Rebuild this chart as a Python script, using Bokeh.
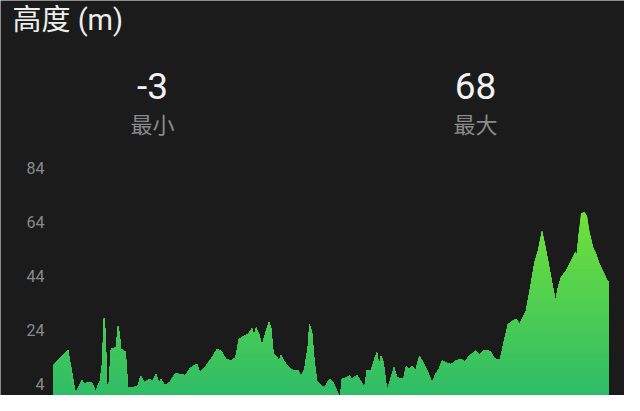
import numpy as np
from bokeh.plotting import figure
from bokeh.models import Range1d
from bokeh.core.properties import value
from bokeh.embed import file_html
from bokeh.resources import INLINE

# ---- data ----
distance_km = [0.00, 0.29, 0.44, 0.57, 0.62, 0.67, 0.77, 0.84, 0.93, 0.97, 1.01, 1.04, 1.07, 1.11,
               1.15, 1.25, 1.29, 1.32, 1.35, 1.44, 1.49, 1.59, 1.69, 1.74, 1.82, 1.92, 1.97, 2.05,
               2.11, 2.15, 2.22, 2.32, 2.44, 2.52, 2.64, 2.73, 2.81, 2.87, 2.93, 3.05, 3.15, 3.27,
               3.35, 3.45, 3.55, 3.64, 3.71, 3.82, 3.89, 3.97, 4.01, 4.05, 4.11, 4.17, 4.24, 4.31,
               4.35, 4.40, 4.45, 4.51, 4.55, 4.65, 4.75, 4.82, 4.89, 4.95, 5.02, 5.09, 5.12, 5.17,
               5.22, 5.27, 5.35, 5.42, 5.52, 5.59, 5.67, 5.73, 5.77, 5.85, 5.92, 5.97, 6.07, 6.14,
               6.22, 6.27, 6.35, 6.44, 6.47, 6.51, 6.55, 6.60, 6.67, 6.73, 6.81, 6.87, 6.95, 7.00,
               7.05, 7.12, 7.17, 7.24, 7.32, 7.39, 7.49, 7.57, 7.64, 7.71, 7.77, 7.85, 7.95, 8.05,
               8.15, 8.22, 8.32, 8.45, 8.52, 8.59, 8.69, 8.75, 8.82, 8.93, 8.99, 9.09, 9.19, 9.25,
               9.32, 9.39, 9.45, 9.53, 9.62, 9.69, 9.77, 9.82, 9.89, 9.97, 10.04, 10.09, 10.15,
               10.25, 10.37, 10.44, 10.47, 10.50, 10.55, 10.62, 10.67, 10.72, 10.79, 10.84, 10.92,
               11.00, 11.07, 11.11]
elevation_m = [11.0, 16.7, 0.7, 5.5, 4.0, 4.6, 4.4, 1.5, 5.3, 11.0, 28.7, 23.0, 3.4, 4.6,
               17.0, 17.6, 25.6, 23.1, 17.0, 16.0, 2.8, 2.8, 3.4, 7.1, 4.6, 5.9, 4.9, 7.7,
               4.6, 5.9, 3.6, 4.6, 8.1, 7.7, 7.3, 9.8, 11.0, 11.4, 8.3, 10.8, 13.3, 17.0,
               16.4, 13.3, 12.7, 13.9, 20.7, 21.9, 22.5, 24.6, 21.9, 25.0, 22.5, 18.4, 23.1, 26.9,
               25.0, 15.1, 14.5, 12.7, 14.7, 11.4, 9.6, 9.0, 9.3, 7.1, 9.6, 18.2, 26.2, 23.1,
               12.0, 5.3, 3.4, 2.8, 5.9, 4.6, 1.6, -1.2, 5.9, 6.5, 7.1, 5.9, 7.3, 5.3,
               2.8, 9.3, 9.0, 14.5, 15.7, 10.8, 14.5, 12.0, 1.6, 5.3, 10.2, 6.5, 6.1, 5.9,
               10.6, 9.6, 10.8, 9.0, 14.5, 12.0, 8.3, 4.6, 7.7, 9.6, 12.7, 12.0, 11.4, 12.7,
               13.3, 12.3, 14.5, 16.4, 14.7, 16.4, 16.7, 15.7, 13.5, 13.0, 18.2, 26.2, 27.5, 28.1,
               26.5, 28.7, 31.2, 39.2, 49.1, 53.4, 60.8, 56.5, 49.7, 41.7, 34.9, 39.8, 43.5,
               46.0, 50.3, 53.0, 52.1, 59.0, 67.3, 67.9, 66.4, 60.2, 54.6, 52.8, 48.4,
               45.4, 42.7, 41.7]
y_ticks = [4, 24, 44, 64, 84]
title_text = "高度 (m)"
stat_values = ["-3", "68"]
stat_names = ["最小", "最大"]

BG = "#1b1b1b"
FONT = "Roboto, Noto Sans CJK SC"

W, H = 624, 395
# page-pixel calibration of the data scales
PX_LEFT, PX_RIGHT = 61.0, 616.0          # page px of first / last distance
DATA_X0, DATA_X1 = 0.0, 11.1
PX_PER_M = 2.7                            # page px per metre of elevation
PX_Y4 = 391.7                             # page px of 4 m


def X(px):
    return DATA_X0 + (px - PX_LEFT) / (PX_RIGHT - PX_LEFT) * (DATA_X1 - DATA_X0)


def Y(py):
    return 4 + (PX_Y4 - py) / PX_PER_M


p = figure(width=W, height=H, output_backend="svg", toolbar_location=None,
           x_range=Range1d(X(8), X(8 + W)), y_range=Range1d(Y(8 + H), Y(8)),
           x_axis_location=None, y_axis_location=None,
           min_border=0, min_border_left=0, min_border_right=0,
           min_border_top=0, min_border_bottom=0)
p.background_fill_color = BG
p.border_fill_color = BG
p.outline_line_color = None
p.outline_line_alpha = 0
p.grid.visible = False

# ---- gradient area ----
elev = np.array(elevation_m)
dist = np.array(distance_km)
top_c = np.array([0x70, 0xe0, 0x3a])
bot_c = np.array([0x2e, 0xbc, 0x68])
emax = elev.max()
n_bands = 48
levels = np.linspace(0, emax, n_bands + 1)[1:]
lower = np.minimum(0.0, elev)
for lev in levels[::-1]:
    t = lev / emax
    c = bot_c + (top_c - bot_c) * t
    col = "#%02x%02x%02x" % tuple(int(round(v)) for v in c)
    upper = np.minimum(elev, lev)
    p.varea(x=dist, y1=lower, y2=upper, fill_color=col, fill_alpha=1.0)

# ---- y tick labels ----
p.text(x=[X(52)] * len(y_ticks), y=y_ticks, text=[str(t) for t in y_ticks],
       text_font=value(FONT), text_font_size="16px", text_color="#8a8a8a",
       text_align="right", text_baseline="middle")

# ---- title & stats ----
p.text(x=[X(20)], y=[Y(27)], text=[title_text], text_font=value(FONT),
       text_font_size="29px", text_color="#ededed",
       text_align="left", text_baseline="middle")
p.text(x=[X(160), X(483)], y=[Y(93)] * 2, text=stat_values, text_font=value(FONT),
       text_font_size="37px", text_color="#f2f2f2",
       text_align="center", text_baseline="middle")
p.text(x=[X(160), X(483)], y=[Y(133)] * 2, text=stat_names, text_font=value(FONT),
       text_font_size="22px", text_color="#8a8a8a",
       text_align="center", text_baseline="middle")

open("out.html", "w").write(file_html(p, INLINE))
